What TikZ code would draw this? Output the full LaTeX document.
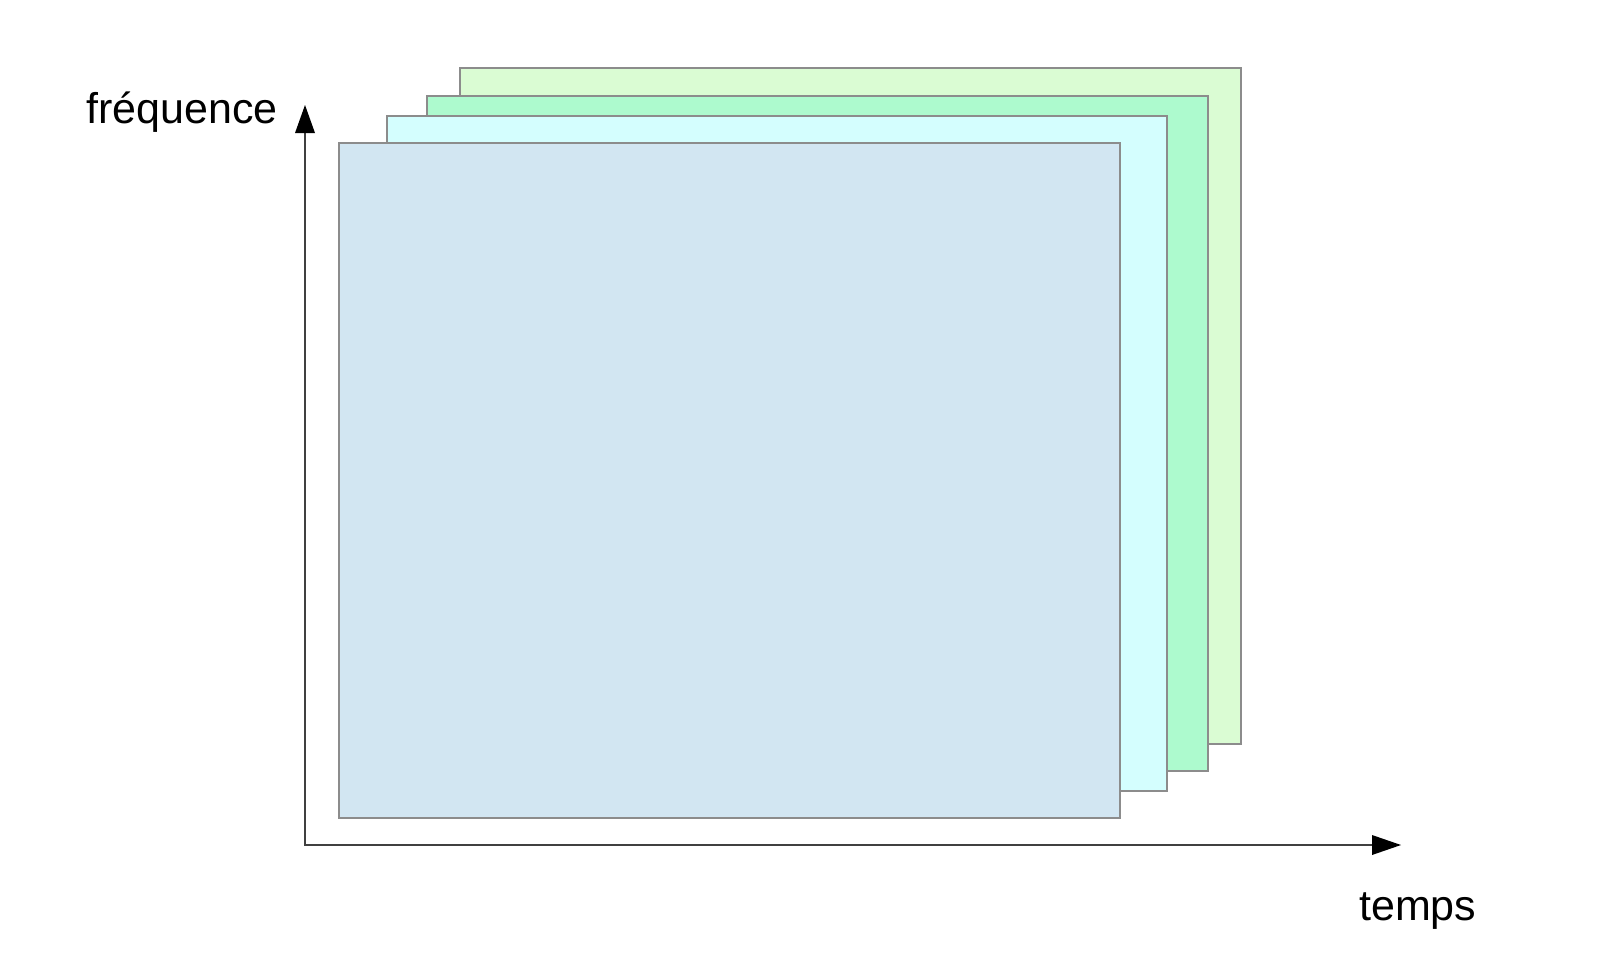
\documentclass[tikz,border=0pt]{standalone}
\usepackage{fontspec}
\setmainfont{Liberation Sans}
\begin{document}
\begin{tikzpicture}[x=1pt,y=-1pt,
  layer/.style={draw=black!45, line width=1.3pt},
  axis/.style={draw=black!75, line width=1.7pt},
  tip/.style={fill=black, draw=none},
  lbl/.style={font=\fontsize{43}{50}\selectfont, inner sep=0pt, anchor=base west}]
\useasboundingbox[fill=white] (0,0) rectangle (1606,956);
\definecolor{cA}{HTML}{DAFCD3}
\definecolor{cB}{HTML}{ADFACE}
\definecolor{cC}{HTML}{D4FEFE}
\definecolor{cD}{HTML}{D2E6F2}
\path[layer, fill=cA] (460,68) rectangle (1241,744);
\path[layer, fill=cB] (427,96) rectangle (1208,771);
\path[layer, fill=cC] (387,116) rectangle (1167,791);
\path[layer, fill=cD] (339,143) rectangle (1120,818);
\coordinate (o) at (305,845);
\coordinate (ytop) at (305,133);
\coordinate (xend) at (1372,845);
\draw[axis] (ytop) -- (o) -- (xend);
\path[tip] (305,105) -- (315,133) -- (295,133) -- cycle;
\path[tip] (1401,845) -- (1372,835) -- (1372,855) -- cycle;
\node[lbl] (freq) at (86,123) {fréquence};
\node[lbl] (temps) at (1359,920) {temps};
\end{tikzpicture}
\end{document}
